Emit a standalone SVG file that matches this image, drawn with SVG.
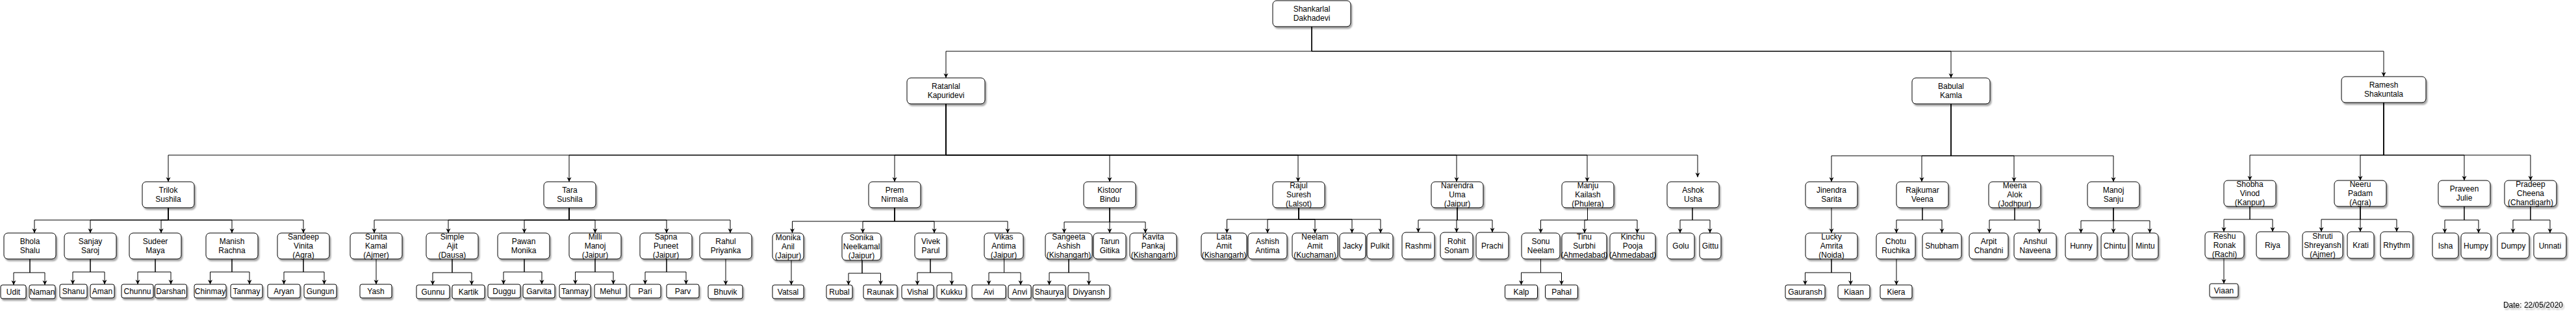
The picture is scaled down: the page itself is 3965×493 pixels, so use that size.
<svg xmlns="http://www.w3.org/2000/svg" width="3965" height="493" viewBox="0 0 3965 493">
<defs>
<filter id="sh" x="-20%" y="-20%" width="150%" height="170%"><feDropShadow dx="2" dy="3" stdDeviation="1.2" flood-color="#000" flood-opacity="0.35"/></filter>
<marker id="a" viewBox="0 0 8 8" refX="7" refY="4" markerWidth="8" markerHeight="8" markerUnits="userSpaceOnUse" orient="auto"><path d="M0,0.5 L7,4 L0,7.5 L2,4 Z" fill="#000"/></marker>
<style>
.n rect{fill:#fff;stroke:#000;stroke-width:1;filter:url(#sh)}
.n text,.lbl{font-family:"Liberation Sans",Arial,Helvetica,sans-serif;font-size:12px;text-anchor:middle;fill:#000}
#edges path{fill:none;stroke:#000;stroke-width:1;marker-end:url(#a)}
</style>
</defs>
<rect width="3965" height="493" fill="#fff"/>
<g id="edges">
<path d="M2019,41 V79 H1456 V120"/><path d="M2019,41 V79 H3003 V120"/><path d="M2019,41 V79 H3669 V118"/>
<path d="M1456,160 V239 H259 V280"/><path d="M1456,160 V239 H876 V280"/><path d="M1456,160 V239 H1377 V280"/><path d="M1456,160 V239 H1708 V280"/><path d="M1456,160 V239 H1998 V280"/><path d="M1456,160 V239 H2242 V280"/><path d="M1456,160 V239 H2443 V280"/><path d="M1456,160 V239 H2613 V273"/>
<path d="M3003,160 V240 H2819 V280"/><path d="M3003,160 V240 H2958 V280"/><path d="M3003,160 V240 H3100 V280"/><path d="M3003,160 V240 H3253 V280"/>
<path d="M3669,158 V239 H3463 V278"/><path d="M3669,158 V239 H3633 V278"/><path d="M3669,158 V239 H3793 V278"/><path d="M3669,158 V239 H3895 V278"/>
<path d="M259,320 V339 H53 V359"/><path d="M259,320 V339 H139 V359"/><path d="M259,320 V339 H248 V359"/><path d="M259,320 V339 H357 V359"/><path d="M259,320 V339 H467 V359"/>
<path d="M876,320 V339 H576 V359"/><path d="M876,320 V339 H690 V359"/><path d="M876,320 V339 H807 V359"/><path d="M876,320 V339 H916 V359"/><path d="M876,320 V339 H1026 V359"/><path d="M876,320 V339 H1124 V359"/>
<path d="M1377,320 V341 H1219.5 V359"/><path d="M1377,320 V341 H1328 V359"/><path d="M1377,320 V341 H1438 V359"/><path d="M1377,320 V341 H1551 V359"/>
<path d="M1708,320 V342 H1638 V359"/><path d="M1708,320 V342 H1708 V359"/><path d="M1708,320 V342 H1763 V359"/>
<path d="M1999,320 V338 H1888.5 V359"/><path d="M1999,320 V338 H1951 V359"/><path d="M1999,320 V338 H2024 V359"/><path d="M1999,320 V338 H2081 V359"/><path d="M1999,320 V338 H2125 V359"/>
<path d="M2243,320 V339 H2183 V358"/><path d="M2243,320 V339 H2242 V358"/><path d="M2243,320 V339 H2297 V358"/>
<path d="M2443.5,320 V339 H2371.5 V359"/><path d="M2443.5,320 V339 H2439 V359"/><path d="M2443.5,320 V339 H2520 V359"/>
<path d="M2605,320 V339 H2586 V359"/><path d="M2605,320 V339 H2632 V359"/>
<path d="M2819,320 V359"/>
<path d="M2959,320 V339 H2919 V359"/><path d="M2959,320 V339 H2989 V359"/>
<path d="M3101,320 V339 H3062 V359"/><path d="M3101,320 V339 H3139 V359"/>
<path d="M3253,320 V340 H3203 V359"/><path d="M3253,320 V340 H3253 V359"/><path d="M3253,320 V340 H3309 V359"/>
<path d="M3463,318 V338 H3423 V357"/><path d="M3463,318 V338 H3498 V357"/>
<path d="M3633,318 V338 H3573 V357"/><path d="M3633,318 V338 H3633 V357"/><path d="M3633,318 V338 H3689 V357"/>
<path d="M3793,318 V339 H3763 V359"/><path d="M3793,318 V339 H3815 V359"/>
<path d="M3895,318 V339 H3868 V359"/><path d="M3895,318 V339 H3925 V359"/>
<path d="M46,399 V420 H21 V439"/><path d="M46,399 V420 H69 V439"/>
<path d="M139,399 V419 H112 V438"/><path d="M139,399 V419 H161 V438"/>
<path d="M239,399 V419 H212 V438"/><path d="M239,399 V419 H263 V438"/>
<path d="M357,399 V419 H323.5 V438"/><path d="M357,399 V419 H384 V438"/>
<path d="M467,399 V419 H437 V438"/><path d="M467,399 V419 H499 V438"/>
<path d="M579,399 V438"/>
<path d="M696,399 V420 H666 V439"/><path d="M696,399 V420 H726 V439"/>
<path d="M807,399 V419 H775 V438"/><path d="M807,399 V419 H834 V438"/>
<path d="M916,399 V419 H885.5 V438"/><path d="M916,399 V419 H944 V438"/>
<path d="M1026,399 V419 H993 V438"/><path d="M1026,399 V419 H1056 V438"/>
<path d="M1117,399 V439"/>
<path d="M1218,401 V439"/>
<path d="M1327,401 V421 H1306 V439"/><path d="M1327,401 V421 H1355.5 V439"/>
<path d="M1432,399 V420 H1412 V439"/><path d="M1432,399 V420 H1465 V439"/>
<path d="M1545.5,399 V420 H1522 V439"/><path d="M1545.5,399 V420 H1571 V439"/>
<path d="M1645,399 V420 H1615 V439"/><path d="M1645,399 V420 H1676 V439"/>
<path d="M2371.5,399 V420 H2341.5 V439"/><path d="M2371.5,399 V420 H2403.5 V439"/>
<path d="M2819,399 V420 H2778.5 V439"/><path d="M2819,399 V420 H2848.5 V439"/>
<path d="M2919,399 V439"/>
<path d="M3423,398 V437"/>
</g>
<g id="shankarlal" class="n"><rect x="1959" y="1" width="120" height="40" rx="6"/><text x="2019" y="18.3">Shankarlal<tspan x="2019" dy="14">Dakhadevi</tspan></text></g>
<g id="ratanlal" class="n"><rect x="1396" y="120" width="120" height="40" rx="6"/><text x="1456" y="137.3">Ratanlal<tspan x="1456" dy="14">Kapuridevi</tspan></text></g>
<g id="babulal" class="n"><rect x="2943" y="120" width="120" height="40" rx="6"/><text x="3003" y="137.3">Babulal<tspan x="3003" dy="14">Kamla</tspan></text></g>
<g id="ramesh" class="n"><rect x="3604" y="118" width="130" height="40" rx="6"/><text x="3669" y="135.3">Ramesh<tspan x="3669" dy="14">Shakuntala</tspan></text></g>
<g id="trilok" class="n"><rect x="219" y="280" width="80" height="40" rx="6"/><text x="259" y="297.3">Trilok<tspan x="259" dy="14">Sushila</tspan></text></g>
<g id="tara" class="n"><rect x="837" y="280" width="80" height="40" rx="6"/><text x="877" y="297.3">Tara<tspan x="877" dy="14">Sushila</tspan></text></g>
<g id="prem" class="n"><rect x="1337" y="280" width="80" height="40" rx="6"/><text x="1377" y="297.3">Prem<tspan x="1377" dy="14">Nirmala</tspan></text></g>
<g id="kistoor" class="n"><rect x="1668" y="280" width="80" height="40" rx="6"/><text x="1708" y="297.3">Kistoor<tspan x="1708" dy="14">Bindu</tspan></text></g>
<g id="rajul" class="n"><rect x="1959" y="280" width="80" height="40" rx="6"/><text x="1999" y="290.3">Rajul<tspan x="1999" dy="14">Suresh</tspan><tspan x="1999" dy="14">(Lalsot)</tspan></text></g>
<g id="narendra" class="n"><rect x="2203" y="280" width="80" height="40" rx="6"/><text x="2243" y="290.3">Narendra<tspan x="2243" dy="14">Uma</tspan><tspan x="2243" dy="14">(Jaipur)</tspan></text></g>
<g id="manju" class="n"><rect x="2404" y="280" width="80" height="40" rx="6"/><text x="2444" y="290.3">Manju<tspan x="2444" dy="14">Kailash</tspan><tspan x="2444" dy="14">(Phulera)</tspan></text></g>
<g id="ashok" class="n"><rect x="2566" y="280" width="80" height="40" rx="6"/><text x="2606" y="297.3">Ashok<tspan x="2606" dy="14">Usha</tspan></text></g>
<g id="jinendra" class="n"><rect x="2779" y="280" width="80" height="40" rx="6"/><text x="2819" y="297.3">Jinendra<tspan x="2819" dy="14">Sarita</tspan></text></g>
<g id="rajkumar" class="n"><rect x="2919" y="280" width="80" height="40" rx="6"/><text x="2959" y="297.3">Rajkumar<tspan x="2959" dy="14">Veena</tspan></text></g>
<g id="meena" class="n"><rect x="3061" y="280" width="80" height="40" rx="6"/><text x="3101" y="290.3">Meena<tspan x="3101" dy="14">Alok</tspan><tspan x="3101" dy="14">(Jodhpur)</tspan></text></g>
<g id="manoj" class="n"><rect x="3213" y="280" width="80" height="40" rx="6"/><text x="3253" y="297.3">Manoj<tspan x="3253" dy="14">Sanju</tspan></text></g>
<g id="shobha" class="n"><rect x="3423" y="278" width="80" height="40" rx="6"/><text x="3463" y="288.3">Shobha<tspan x="3463" dy="14">Vinod</tspan><tspan x="3463" dy="14">(Kanpur)</tspan></text></g>
<g id="neeru" class="n"><rect x="3593" y="278" width="80" height="40" rx="6"/><text x="3633" y="288.3">Neeru<tspan x="3633" dy="14">Padam</tspan><tspan x="3633" dy="14">(Agra)</tspan></text></g>
<g id="praveen" class="n"><rect x="3753" y="278" width="80" height="40" rx="6"/><text x="3793" y="295.3">Praveen<tspan x="3793" dy="14">Julie</tspan></text></g>
<g id="pradeep" class="n"><rect x="3855" y="278" width="80" height="40" rx="6"/><text x="3895" y="288.3">Pradeep<tspan x="3895" dy="14">Cheena</tspan><tspan x="3895" dy="14">(Chandigarh)</tspan></text></g>
<g id="bhola" class="n"><rect x="6" y="359" width="80" height="40" rx="6"/><text x="46" y="376.3">Bhola<tspan x="46" dy="14">Shalu</tspan></text></g>
<g id="sanjay" class="n"><rect x="99" y="359" width="80" height="40" rx="6"/><text x="139" y="376.3">Sanjay<tspan x="139" dy="14">Saroj</tspan></text></g>
<g id="sudeer" class="n"><rect x="199" y="359" width="80" height="40" rx="6"/><text x="239" y="376.3">Sudeer<tspan x="239" dy="14">Maya</tspan></text></g>
<g id="manish" class="n"><rect x="317" y="359" width="80" height="40" rx="6"/><text x="357" y="376.3">Manish<tspan x="357" dy="14">Rachna</tspan></text></g>
<g id="sandeep" class="n"><rect x="427" y="359" width="80" height="40" rx="6"/><text x="467" y="369.3">Sandeep<tspan x="467" dy="14">Vinita</tspan><tspan x="467" dy="14">(Agra)</tspan></text></g>
<g id="sunita" class="n"><rect x="539" y="359" width="80" height="40" rx="6"/><text x="579" y="369.3">Sunita<tspan x="579" dy="14">Kamal</tspan><tspan x="579" dy="14">(Ajmer)</tspan></text></g>
<g id="simple" class="n"><rect x="656" y="359" width="80" height="40" rx="6"/><text x="696" y="369.3">Simple<tspan x="696" dy="14">Ajit</tspan><tspan x="696" dy="14">(Dausa)</tspan></text></g>
<g id="pawan" class="n"><rect x="766" y="359" width="80" height="40" rx="6"/><text x="806" y="376.3">Pawan<tspan x="806" dy="14">Monika</tspan></text></g>
<g id="milli" class="n"><rect x="876" y="359" width="80" height="40" rx="6"/><text x="916" y="369.3">Milli<tspan x="916" dy="14">Manoj</tspan><tspan x="916" dy="14">(Jaipur)</tspan></text></g>
<g id="sapna" class="n"><rect x="985" y="359" width="80" height="40" rx="6"/><text x="1025" y="369.3">Sapna<tspan x="1025" dy="14">Puneet</tspan><tspan x="1025" dy="14">(Jaipur)</tspan></text></g>
<g id="rahul" class="n"><rect x="1077" y="359" width="80" height="40" rx="6"/><text x="1117" y="376.3">Rahul<tspan x="1117" dy="14">Priyanka</tspan></text></g>
<g id="monika" class="n"><rect x="1189" y="359" width="48" height="42" rx="6"/><text x="1213" y="370.3">Monika<tspan x="1213" dy="14">Anil</tspan><tspan x="1213" dy="14">(Jaipur)</tspan></text></g>
<g id="sonika" class="n"><rect x="1296" y="359" width="60" height="42" rx="6"/><text x="1326" y="370.3">Sonika<tspan x="1326" dy="14">Neelkamal</tspan><tspan x="1326" dy="14">(Jaipur)</tspan></text></g>
<g id="vivek" class="n"><rect x="1408" y="359" width="49" height="40" rx="6"/><text x="1432.5" y="376.3">Vivek<tspan x="1432.5" dy="14">Parul</tspan></text></g>
<g id="vikas" class="n"><rect x="1515" y="359" width="60" height="40" rx="6"/><text x="1545" y="369.3">Vikas<tspan x="1545" dy="14">Antima</tspan><tspan x="1545" dy="14">(Jaipur)</tspan></text></g>
<g id="sangeeta" class="n"><rect x="1609" y="359" width="72" height="40" rx="6"/><text x="1645" y="369.3">Sangeeta<tspan x="1645" dy="14">Ashish</tspan><tspan x="1645" dy="14">(Kishangarh)</tspan></text></g>
<g id="tarun" class="n"><rect x="1683" y="359" width="50" height="40" rx="6"/><text x="1708" y="376.3">Tarun<tspan x="1708" dy="14">Gitika</tspan></text></g>
<g id="kavita" class="n"><rect x="1739" y="359" width="72" height="40" rx="6"/><text x="1775" y="369.3">Kavita<tspan x="1775" dy="14">Pankaj</tspan><tspan x="1775" dy="14">(Kishangarh)</tspan></text></g>
<g id="lata" class="n"><rect x="1849" y="359" width="70" height="40" rx="6"/><text x="1884" y="369.3">Lata<tspan x="1884" dy="14">Amit</tspan><tspan x="1884" dy="14">(Kishangarh)</tspan></text></g>
<g id="ashish" class="n"><rect x="1921" y="359" width="60" height="40" rx="6"/><text x="1951" y="376.3">Ashish<tspan x="1951" dy="14">Antima</tspan></text></g>
<g id="neelam" class="n"><rect x="1989" y="359" width="70" height="40" rx="6"/><text x="2024" y="369.3">Neelam<tspan x="2024" dy="14">Amit</tspan><tspan x="2024" dy="14">(Kuchaman)</tspan></text></g>
<g id="jacky" class="n"><rect x="2062" y="359" width="40" height="40" rx="6"/><text x="2082" y="383.3">Jacky</text></g>
<g id="pulkit" class="n"><rect x="2104" y="359" width="40" height="40" rx="6"/><text x="2124" y="383.3">Pulkit</text></g>
<g id="rashmi" class="n"><rect x="2158" y="358" width="50" height="41" rx="6"/><text x="2183" y="383">Rashmi</text></g>
<g id="rohit" class="n"><rect x="2217" y="358" width="50" height="41" rx="6"/><text x="2242" y="375.8">Rohit<tspan x="2242" dy="14">Sonam</tspan></text></g>
<g id="prachi" class="n"><rect x="2272" y="358" width="50" height="41" rx="6"/><text x="2297" y="383">Prachi</text></g>
<g id="sonu" class="n"><rect x="2342" y="359" width="59" height="40" rx="6"/><text x="2371.5" y="376.3">Sonu<tspan x="2371.5" dy="14">Neelam</tspan></text></g>
<g id="tinu" class="n"><rect x="2404" y="359" width="69" height="40" rx="6"/><text x="2438.5" y="369.3">Tinu<tspan x="2438.5" dy="14">Surbhi</tspan><tspan x="2438.5" dy="14">(Ahmedabad)</tspan></text></g>
<g id="kinchu" class="n"><rect x="2478" y="359" width="70" height="40" rx="6"/><text x="2513" y="369.3">Kinchu<tspan x="2513" dy="14">Pooja</tspan><tspan x="2513" dy="14">(Ahmedabad)</tspan></text></g>
<g id="golu" class="n"><rect x="2566" y="359" width="42" height="40" rx="6"/><text x="2587" y="383.3">Golu</text></g>
<g id="gittu" class="n"><rect x="2616" y="359" width="33" height="40" rx="6"/><text x="2632.5" y="383.3">Gittu</text></g>
<g id="lucky" class="n"><rect x="2779" y="359" width="80" height="40" rx="6"/><text x="2819" y="369.3">Lucky<tspan x="2819" dy="14">Amrita</tspan><tspan x="2819" dy="14">(Noida)</tspan></text></g>
<g id="chotu" class="n"><rect x="2888" y="359" width="60" height="40" rx="6"/><text x="2918" y="376.3">Chotu<tspan x="2918" dy="14">Ruchika</tspan></text></g>
<g id="shubham" class="n"><rect x="2959" y="359" width="60" height="40" rx="6"/><text x="2989" y="383.3">Shubham</text></g>
<g id="arpit" class="n"><rect x="3031" y="359" width="60" height="40" rx="6"/><text x="3061" y="376.3">Arpit<tspan x="3061" dy="14">Chandni</tspan></text></g>
<g id="anshul" class="n"><rect x="3100" y="359" width="65" height="40" rx="6"/><text x="3132.5" y="376.3">Anshul<tspan x="3132.5" dy="14">Naveena</tspan></text></g>
<g id="hunny" class="n"><rect x="3179" y="359" width="49" height="40" rx="6"/><text x="3203.5" y="383.3">Hunny</text></g>
<g id="chintu" class="n"><rect x="3234" y="359" width="42" height="40" rx="6"/><text x="3255" y="383.3">Chintu</text></g>
<g id="mintu" class="n"><rect x="3282" y="359" width="40" height="40" rx="6"/><text x="3302" y="383.3">Mintu</text></g>
<g id="reshu" class="n"><rect x="3394" y="357" width="60" height="41" rx="6"/><text x="3424" y="367.8">Reshu<tspan x="3424" dy="14">Ronak</tspan><tspan x="3424" dy="14">(Rachi)</tspan></text></g>
<g id="riya" class="n"><rect x="3473" y="357" width="50" height="41" rx="6"/><text x="3498" y="382">Riya</text></g>
<g id="shruti" class="n"><rect x="3544" y="357" width="62" height="41" rx="6"/><text x="3575" y="367.8">Shruti<tspan x="3575" dy="14">Shreyansh</tspan><tspan x="3575" dy="14">(Ajmer)</tspan></text></g>
<g id="krati" class="n"><rect x="3613" y="357" width="41" height="41" rx="6"/><text x="3633.5" y="382">Krati</text></g>
<g id="rhythm" class="n"><rect x="3664" y="357" width="50" height="41" rx="6"/><text x="3689" y="382">Rhythm</text></g>
<g id="isha" class="n"><rect x="3744" y="359" width="40" height="39" rx="6"/><text x="3764" y="382.8">Isha</text></g>
<g id="humpy" class="n"><rect x="3788" y="359" width="46" height="39" rx="6"/><text x="3811" y="382.8">Humpy</text></g>
<g id="dumpy" class="n"><rect x="3844" y="359" width="49" height="39" rx="6"/><text x="3868.5" y="382.8">Dumpy</text></g>
<g id="unnati" class="n"><rect x="3900" y="359" width="50" height="39" rx="6"/><text x="3925" y="382.8">Unnati</text></g>
<g id="udit" class="n"><rect x="1" y="439" width="39" height="21" rx="3"/><text x="20.5" y="453.8">Udit</text></g>
<g id="naman" class="n"><rect x="45" y="439" width="40" height="21" rx="3"/><text x="65" y="453.8">Naman</text></g>
<g id="shanu" class="n"><rect x="92" y="438" width="42" height="21" rx="3"/><text x="113" y="452.8">Shanu</text></g>
<g id="aman" class="n"><rect x="139" y="438" width="37" height="21" rx="3"/><text x="157.5" y="452.8">Aman</text></g>
<g id="chunnu" class="n"><rect x="187" y="438" width="49" height="21" rx="3"/><text x="211.5" y="452.8">Chunnu</text></g>
<g id="darshan" class="n"><rect x="238.5" y="438" width="49" height="21" rx="3"/><text x="263" y="452.8">Darshan</text></g>
<g id="chinmay" class="n"><rect x="299" y="438" width="49" height="21" rx="3"/><text x="323.5" y="452.8">Chinmay</text></g>
<g id="tanmay1" class="n"><rect x="355" y="438" width="49" height="21" rx="3"/><text x="379.5" y="452.8">Tanmay</text></g>
<g id="aryan" class="n"><rect x="412" y="438" width="50" height="21" rx="3"/><text x="437" y="452.8">Aryan</text></g>
<g id="gungun" class="n"><rect x="468" y="438" width="50" height="21" rx="3"/><text x="493" y="452.8">Gungun</text></g>
<g id="yash" class="n"><rect x="554" y="438" width="49" height="21" rx="3"/><text x="578.5" y="452.8">Yash</text></g>
<g id="gunnu" class="n"><rect x="641" y="439" width="51" height="21" rx="3"/><text x="666.5" y="453.8">Gunnu</text></g>
<g id="kartik" class="n"><rect x="696" y="439" width="50" height="21" rx="3"/><text x="721" y="453.8">Kartik</text></g>
<g id="duggu" class="n"><rect x="751" y="438" width="50" height="21" rx="3"/><text x="776" y="452.8">Duggu</text></g>
<g id="garvita" class="n"><rect x="805" y="438" width="49" height="21" rx="3"/><text x="829.5" y="452.8">Garvita</text></g>
<g id="tanmay2" class="n"><rect x="861" y="438" width="48" height="21" rx="3"/><text x="885" y="452.8">Tanmay</text></g>
<g id="mehul" class="n"><rect x="915" y="438" width="49" height="21" rx="3"/><text x="939.5" y="452.8">Mehul</text></g>
<g id="pari" class="n"><rect x="969" y="438" width="48" height="21" rx="3"/><text x="993" y="452.8">Pari</text></g>
<g id="parv" class="n"><rect x="1026" y="438" width="50" height="21" rx="3"/><text x="1051" y="452.8">Parv</text></g>
<g id="bhuvik" class="n"><rect x="1090" y="439" width="53" height="21" rx="3"/><text x="1116.5" y="453.8">Bhuvik</text></g>
<g id="vatsal" class="n"><rect x="1189" y="439" width="48" height="21" rx="3"/><text x="1213" y="453.8">Vatsal</text></g>
<g id="rubal" class="n"><rect x="1272" y="439" width="40" height="21" rx="3"/><text x="1292" y="453.8">Rubal</text></g>
<g id="raunak" class="n"><rect x="1329" y="439" width="52" height="21" rx="3"/><text x="1355" y="453.8">Raunak</text></g>
<g id="vishal" class="n"><rect x="1388" y="439" width="49" height="21" rx="3"/><text x="1412.5" y="453.8">Vishal</text></g>
<g id="kukku" class="n"><rect x="1442" y="439" width="45" height="21" rx="3"/><text x="1464.5" y="453.8">Kukku</text></g>
<g id="avi" class="n"><rect x="1496" y="439" width="52" height="21" rx="3"/><text x="1522" y="453.8">Avi</text></g>
<g id="anvi" class="n"><rect x="1552" y="439" width="35" height="21" rx="3"/><text x="1569.5" y="453.8">Anvi</text></g>
<g id="shaurya" class="n"><rect x="1590" y="439" width="50" height="21" rx="3"/><text x="1615" y="453.8">Shaurya</text></g>
<g id="divyansh" class="n"><rect x="1644" y="439" width="64" height="21" rx="3"/><text x="1676" y="453.8">Divyansh</text></g>
<g id="kalp" class="n"><rect x="2316.5" y="439" width="50" height="21" rx="3"/><text x="2341.5" y="453.8">Kalp</text></g>
<g id="pahal" class="n"><rect x="2378.5" y="439" width="50" height="21" rx="3"/><text x="2403.5" y="453.8">Pahal</text></g>
<g id="gauransh" class="n"><rect x="2748" y="439" width="61" height="21" rx="3"/><text x="2778.5" y="453.8">Gauransh</text></g>
<g id="kiaan" class="n"><rect x="2829" y="439" width="49" height="21" rx="3"/><text x="2853.5" y="453.8">Kiaan</text></g>
<g id="kiera" class="n"><rect x="2894" y="439" width="49" height="21" rx="3"/><text x="2918.5" y="453.8">Kiera</text></g>
<g id="viaan" class="n"><rect x="3401" y="437" width="44" height="21" rx="3"/><text x="3423" y="451.8">Viaan</text></g>
<text class="lbl" x="3945" y="474" style="text-anchor:end;filter:url(#sh)">Date: 22/05/2020</text>
</svg>
